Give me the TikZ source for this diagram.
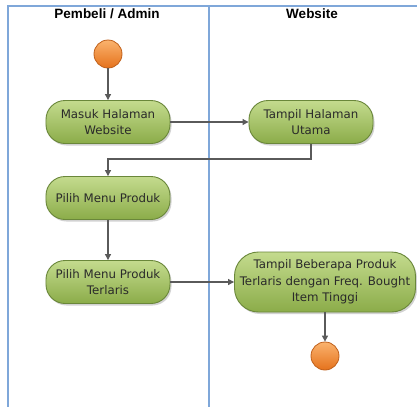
\documentclass[tikz,border=0pt]{standalone}
\usepackage{fontspec}
\setmainfont{DejaVu Sans}
\newfontfamily\headfont{Liberation Sans}
\usetikzlibrary{arrows.meta,shadows}
\definecolor{lane}{HTML}{7FA7D9}
\definecolor{gtop}{HTML}{C4DB8E}
\definecolor{gbot}{HTML}{8BAC49}
\definecolor{gline}{HTML}{6A873A}
\definecolor{otop}{HTML}{FAB36E}
\definecolor{obot}{HTML}{E5721C}
\definecolor{oline}{HTML}{C0601A}
\definecolor{arr}{HTML}{5A5A5A}
\definecolor{txt}{HTML}{2A2A2A}
\tikzset{
  laneline/.style={draw=lane, line width=1.3bp},
  header/.style={font=\headfont\fontsize{13.5bp}{15bp}\selectfont\bfseries, text=black, inner sep=0},
  act/.style={draw=gline, line width=0.9bp, top color=gtop, bottom color=gbot,
    rounded corners=19bp, minimum width=124bp, minimum height=43bp, align=center,
    inner sep=1bp, text=txt, font=\fontsize{11.8bp}{16.5bp}\selectfont,
    drop shadow={shadow xshift=1.5bp, shadow yshift=-2bp, opacity=0.35}},
  dot/.style={circle, draw=oline, line width=0.8bp, top color=otop, bottom color=obot,
    minimum size=28bp, inner sep=0},
  flow/.style={draw=arr, line width=1.1bp, -{Triangle[length=6bp,width=6bp]}}
}
\begin{document}
\begin{tikzpicture}[x=1bp,y=-1bp]
\useasboundingbox (0,0) rectangle (417,407);
\fill[white] (0,0) rectangle (417,407);
\draw[laneline] (8,407) -- (8,6) -- (417,6);
\draw[laneline] (209,6) -- (209,407);
\node[header] (h1) at (107,14) {Pembeli / Admin};
\node[header] (h2) at (312,14) {Website};

\node[dot] (start) at (108,54) {};
\node[act] (mh) at (108,122) {Masuk Halaman\\Website};
\node[act] (tu) at (311,122) {Tampil Halaman\\Utama};
\node[act] (pm) at (108,198) {Pilih Menu Produk};
\node[act] (pt) at (108,282) {Pilih Menu Produk\\Terlaris};
\node[act, minimum width=181bp, minimum height=60bp, rounded corners=24bp] (tb) at (325,282)
  {Tampil Beberapa Produk\\Terlaris dengan Freq. Bought\\Item Tinggi};
\node[dot] (end) at (325,356) {};

\draw[flow] (start) -- (mh);
\draw[flow] (mh) -- (tu);
\draw[flow] (tu.south) -- ++(0,15) -| (pm.north);
\draw[flow] (pm) -- (pt);
\draw[flow] (pt) -- (tb);
\draw[flow] (tb) -- (end);
\end{tikzpicture}
\end{document}
